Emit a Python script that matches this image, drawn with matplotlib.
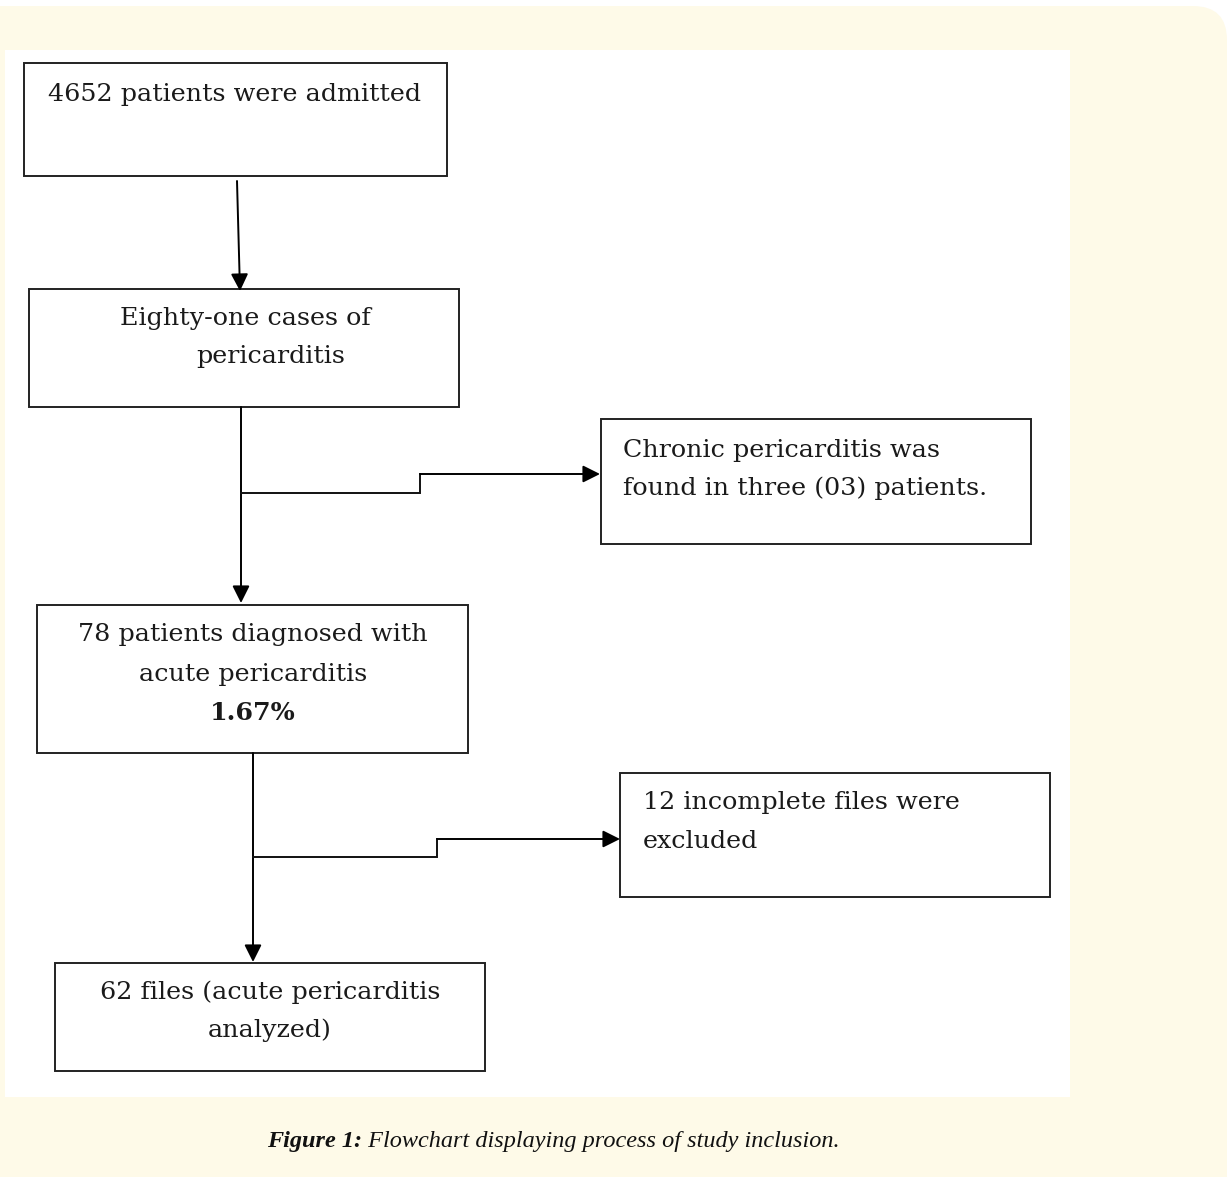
import matplotlib
matplotlib.use("Agg")
import matplotlib.pyplot as plt
from matplotlib.patches import Rectangle, FancyBboxPatch

# ---- content (text of the flowchart) ----
box_admitted = ["4652 patients were admitted"]
box_cases = ["Eighty-one cases of", "pericarditis"]
box_chronic = ["Chronic pericarditis was", "found in three (03) patients."]
box_acute = ["78 patients diagnosed with", "acute pericarditis", "1.67%"]
box_excluded = ["12 incomplete files were", "excluded"]
box_analyzed = ["62 files (acute pericarditis", "analyzed)"]
caption_bold = "Figure 1:"
caption_text = " Flowchart displaying process of study inclusion."

# ---- figure ----
W, H = 1228, 1177
fig = plt.figure(figsize=(W / 100, H / 100), dpi=100)
fig.patch.set_facecolor("white")
ax = fig.add_axes([0, 0, 1, 1])
ax.set_xlim(0, W)
ax.set_ylim(H, 0)
ax.axis("off")

CREAM = "#fefae8"
FONT = "DejaVu Serif"
FS = 18.3
LC = "#111111"

# cream rounded background
ax.add_patch(FancyBboxPatch((-40, 6), W + 40 - 1, H + 60,
                            boxstyle="round,pad=0,rounding_size=34",
                            fc=CREAM, ec="none", zorder=0))
# white panel
ax.add_patch(Rectangle((5, 50), 1065, 1047, fc="white", ec="none", zorder=1))


def box(x0, y0, x1, y1):
    ax.add_patch(Rectangle((x0, y0), x1 - x0, y1 - y0, fc="white",
                           ec="#222222", lw=1.4, zorder=2))


def txt(x, y, s, ha="center", weight="normal"):
    ax.text(x, y, s, ha=ha, va="center", fontsize=FS, family=FONT,
            weight=weight, color="#1a1a1a", zorder=3)


def arrow(x0, y0, x1, y1):
    ax.annotate("", xy=(x1, y1), xytext=(x0, y0), zorder=3,
                arrowprops=dict(arrowstyle="-|>", color="black", lw=1.4,
                                mutation_scale=26, shrinkA=0, shrinkB=0))


def line(xs, ys):
    ax.plot(xs, ys, color=LC, lw=1.4, solid_joinstyle="miter", zorder=3)


# box 1
box(24, 63, 447, 176)
txt(235, 94, box_admitted[0])
arrow(237, 181, 240, 291)

# box 2
box(29, 289, 459, 407)
txt(245, 319, box_cases[0])
txt(271, 357, box_cases[1])

# main arrow to box 3 + side branch
arrow(241, 407, 241, 603)
line([241, 420, 420], [493, 493, 474])
arrow(420, 474, 600, 474)

# chronic box
box(601, 419, 1031, 544)
txt(623, 450, box_chronic[0], ha="left")
txt(623, 488, box_chronic[1], ha="left")

# box 3
box(37, 605, 468, 753)
txt(253, 635, box_acute[0])
txt(253, 674, box_acute[1])
txt(253, 713, box_acute[2], weight="bold")

# arrow to final + branch
arrow(253, 753, 253, 962)
line([253, 437, 437], [857, 857, 839])
arrow(437, 839, 620, 839)

# excluded box
box(620, 773, 1050, 897)
txt(643, 803, box_excluded[0], ha="left")
txt(643, 841, box_excluded[1], ha="left")

# final box
box(55, 963, 485, 1071)
txt(270, 992, box_analyzed[0])
txt(270, 1030, box_analyzed[1])

# caption
CF = "Liberation Serif"
t1 = ax.text(267, 1142, caption_bold, ha="left", va="center", fontsize=17.5,
             family=CF, style="italic", weight="bold", color="#111111", zorder=3)
fig.canvas.draw()
bb = t1.get_window_extent()
x_end = ax.transData.inverted().transform((bb.x1, bb.y0))[0]
ax.text(x_end, 1142, caption_text, ha="left", va="center", fontsize=17.5,
        family=CF, style="italic", color="#111111", zorder=3)

fig.savefig("out.png", dpi=100, facecolor=fig.get_facecolor())
